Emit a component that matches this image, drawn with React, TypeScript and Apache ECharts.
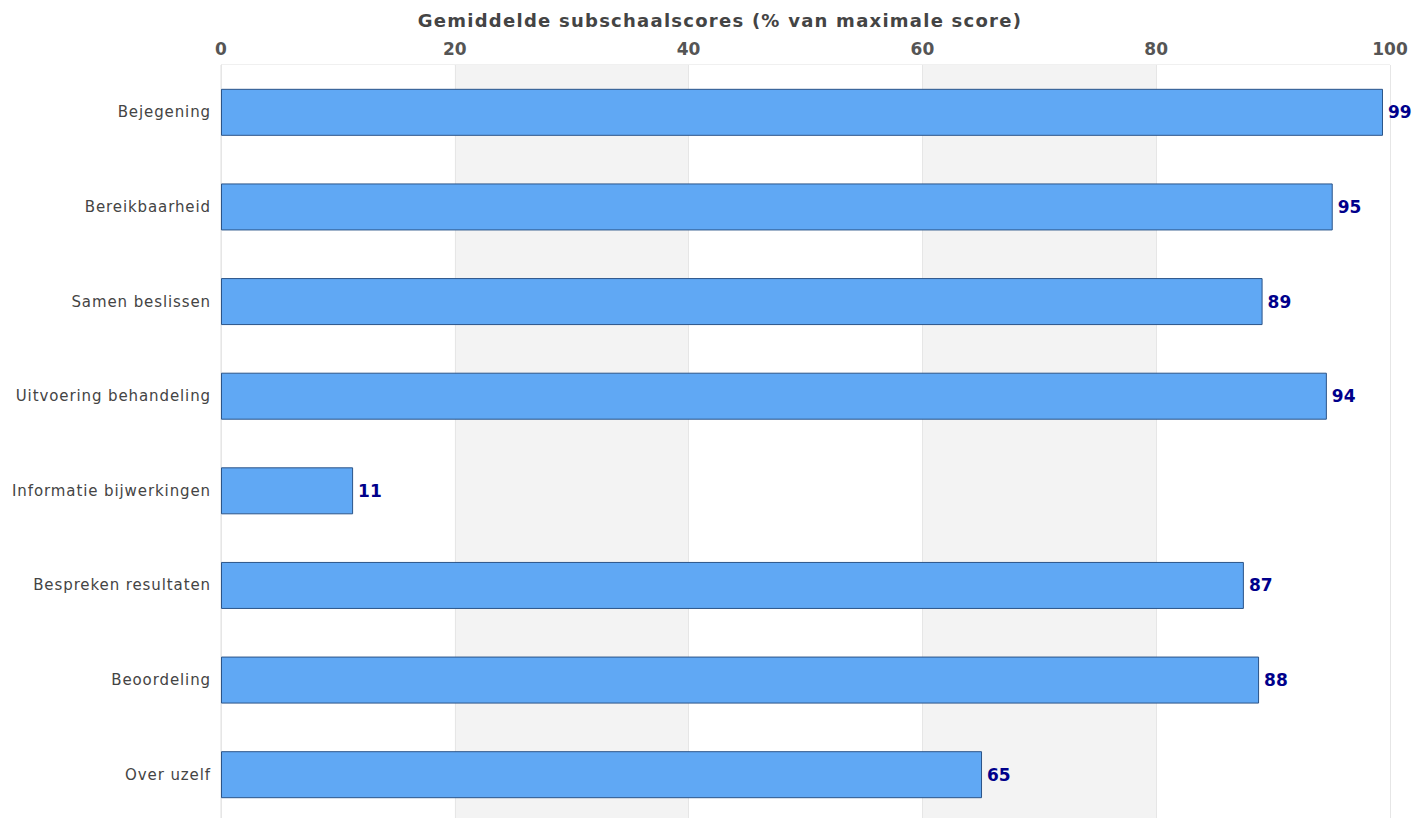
import React, { useEffect, useRef } from "react";
import * as echarts from "echarts";

const categories = [
  "Bejegening",
  "Bereikbaarheid",
  "Samen beslissen",
  "Uitvoering behandeling",
  "Informatie bijwerkingen",
  "Bespreken resultaten",
  "Beoordeling",
  "Over uzelf",
];
const values = [99.4, 95.1, 89.1, 94.6, 11.3, 87.5, 88.8, 65.1];
const titleText = "Gemiddelde subschaalscores (% van maximale score)";

export default function App() {
  const ref = useRef<HTMLDivElement>(null);
  useEffect(() => {
    document.body.style.margin = "0";
    const chart = echarts.init(ref.current!, null, { renderer: "svg" });
    const font = "DejaVu Sans";
    chart.setOption({
      animation: false,
      textStyle: { fontFamily: font },
      title: {
        text: titleText,
        left: 715,
        textAlign: "center",
        top: 6,
        textStyle: { fontFamily: font, fontSize: 18, fontWeight: "bold", color: "#444" },
      },
      grid: {
        left: 221,
        right: 37,
        top: 65,
        bottom: 8,
        show: true,
        borderColor: "#e0e0e0",
        borderWidth: 1,
        backgroundColor: "transparent",
      },
      xAxis: {
        type: "value",
        position: "top",
        min: 0,
        max: 100,
        interval: 20,
        axisLine: { show: false },
        axisTick: { show: false },
        axisLabel: { fontFamily: font, fontSize: 17, fontWeight: "bold", color: "#555", margin: 8 },
        splitLine: { show: true, lineStyle: { color: "#e6e6e6" } },
        splitArea: { show: true, areaStyle: { color: ["#ffffff", "#f3f3f3"] } },
      },
      yAxis: {
        type: "category",
        inverse: true,
        data: categories,
        axisLine: { show: true, lineStyle: { color: "#e6e6e6" } },
        axisTick: { show: false },
        axisLabel: { fontFamily: font, fontSize: 15, color: "#444", margin: 10 },
      },
      series: [
        {
          type: "bar",
          data: values,
          barWidth: 47,
          itemStyle: { color: "#60a8f4", borderColor: "#2b5488", borderWidth: 1 },
          label: {
            show: true,
            position: "right",
            distance: 5,
            fontFamily: font,
            fontSize: 17,
            fontWeight: "bold",
            color: "#00008b",
            formatter: (p: any) => String(Math.floor(p.value)),
          },
        },
      ],
    });
    return () => chart.dispose();
  }, []);
  return (
    <>
      <style>
        {'#chartbox svg text[style*="15px"] { letter-spacing: 0.9px; } #chartbox svg text[style*="18px"] { letter-spacing: 1.25px; }'}
      </style>
      <div id="chartbox" ref={ref} style={{ width: 1427, height: 830 }} />
    </>
  );
}
